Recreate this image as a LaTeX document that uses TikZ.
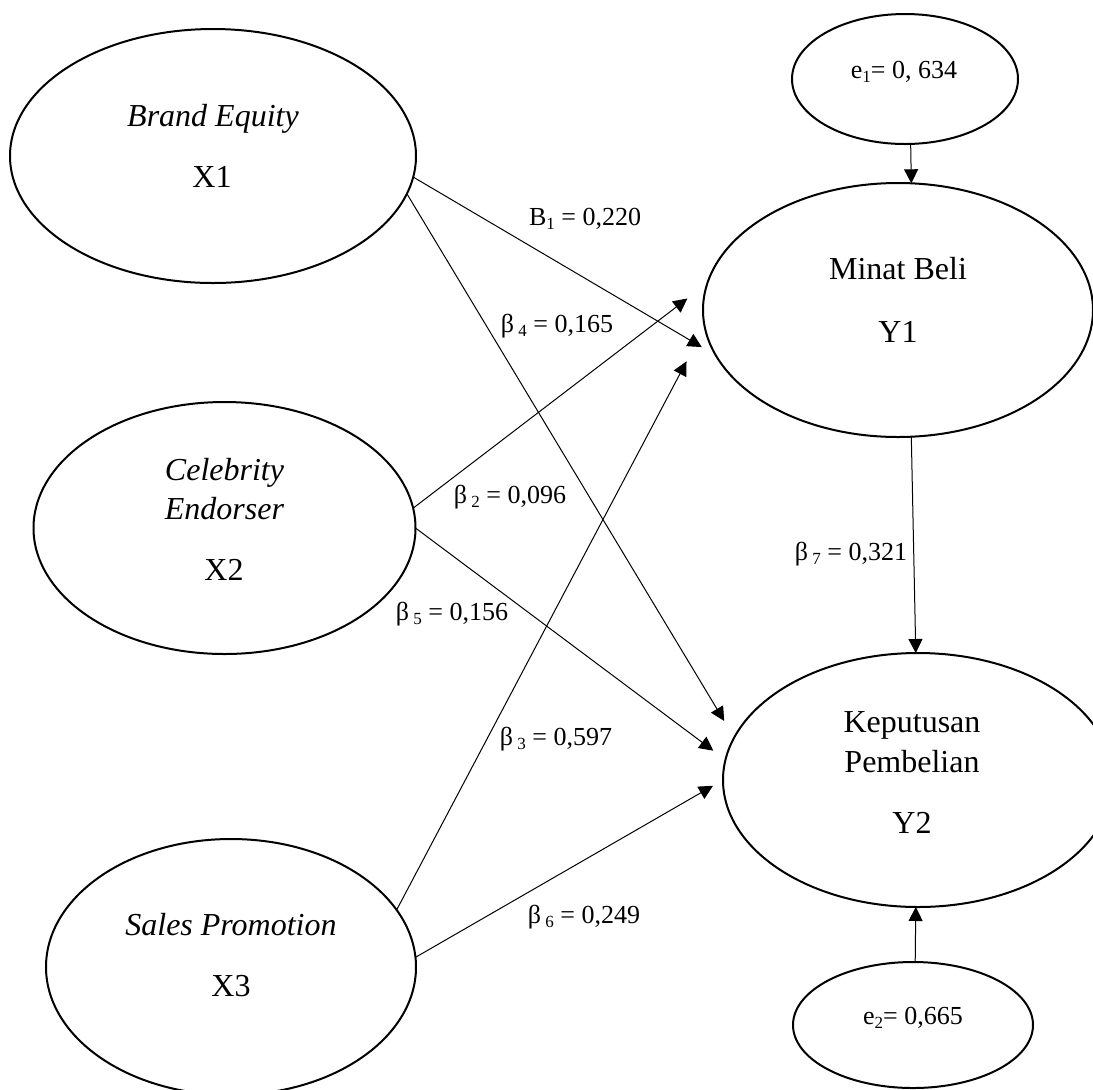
\documentclass[tikz,border=0pt]{standalone}
\usepackage{fontspec}
\setmainfont{Liberation Serif}
\usetikzlibrary{shapes.geometric,arrows.meta}
\newcommand{\lsub}[1]{\raisebox{-0.18em}{\fontsize{8.5pt}{8.5pt}\selectfont #1}}
\tikzset{
  latent/.style={ellipse,draw,line width=1pt,inner sep=0pt,outer sep=0pt},
  maintxt/.style={anchor=base,inner sep=0pt,font=\fontsize{16pt}{18pt}\selectfont},
  coef/.style={anchor=base,inner sep=0pt,font=\fontsize{13pt}{15pt}\selectfont},
  conn/.style={line width=0.5pt,-{Triangle[length=7pt,width=7pt]}},
}
\begin{document}
\begin{tikzpicture}[x=0.5pt,y=-0.5pt]
\useasboundingbox (0,0) rectangle (1093,1089);
% ellipses
\node[latent,minimum width=203pt,minimum height=127pt] (x1) at (213,156) {};
\node[latent,minimum width=191pt,minimum height=126pt] (x2) at (224.5,528) {};
\node[latent,minimum width=185pt,minimum height=128pt] (x3) at (231,967) {};
\node[latent,minimum width=195pt,minimum height=127pt] (y1) at (898,310) {};
\node[latent,minimum width=195pt,minimum height=127pt] (y2) at (918,780) {};
\node[latent,minimum width=113pt,minimum height=65pt] (e1) at (905,79) {};
\node[latent,minimum width=120pt,minimum height=63pt] (e2) at (913,1025) {};
% texts
\node[maintxt] (x1a) at (213,126) {\textit{Brand Equity}};
\node[maintxt] (x1b) at (212,187) {X1};
\node[maintxt] (x2a) at (224.5,480) {\textit{Celebrity}};
\node[maintxt] (x2b) at (224.5,519) {\textit{Endorser}};
\node[maintxt] (x2c) at (224,580) {X2};
\node[maintxt] (x3a) at (231,935) {\textit{Sales Promotion}};
\node[maintxt] (x3b) at (231,996) {X3};
\node[maintxt] (y1a) at (898,279) {Minat Beli};
\node[maintxt] (y1b) at (898,342) {Y1};
\node[maintxt] (y2a) at (912,732) {Keputusan};
\node[maintxt] (y2b) at (912,772) {Pembelian};
\node[maintxt] (y2c) at (912,833) {Y2};
\node[coef] (e1t) at (904,78) {e\lsub{1}= 0, 634};
\node[coef] (e2t) at (913,1024) {e\lsub{2}= 0,665};
% coefficients
\node[coef] (b1) at (585,225) {B\lsub{1} = 0,220};
\node[coef] (b4) at (557,332) {β\,\lsub{4} = 0,165};
\node[coef] (b2) at (510,503) {β\,\lsub{2} = 0,096};
\node[coef] (b5) at (452,620) {β\,\lsub{5} = 0,156};
\node[coef] (b3) at (556,745) {β\,\lsub{3} = 0,597};
\node[coef] (b6) at (584,923) {β\,\lsub{6} = 0,249};
\node[coef] (b7) at (851,560) {β\,\lsub{7} = 0,321};
% connectors
\draw[conn,shorten >=8.2pt] (x1.-6.2) -- (y1.194.65);
\draw[conn,shorten >=9.7pt] (x1.-11.7) -- (y2.167.67);
\draw[conn,shorten >=12.6pt] (x2.6.9) -- (y1.172.2);
\draw[conn,shorten >=7.6pt] (x2.-0.6) -- (y2.174.4);
\draw[conn,shorten >=19.5pt] (x3.19.3) -- (y1.185.45);
\draw[conn,shorten >=5.8pt] (x3.3.8) -- (y2.180.7);
\draw[conn] (y1.-84.2) -- (y2.91.35);
\draw[conn] (e1.-85.6) -- (y1.84.6);
\draw[conn] (e2.88.2) -- (y2.-91.35);
\end{tikzpicture}
\end{document}
